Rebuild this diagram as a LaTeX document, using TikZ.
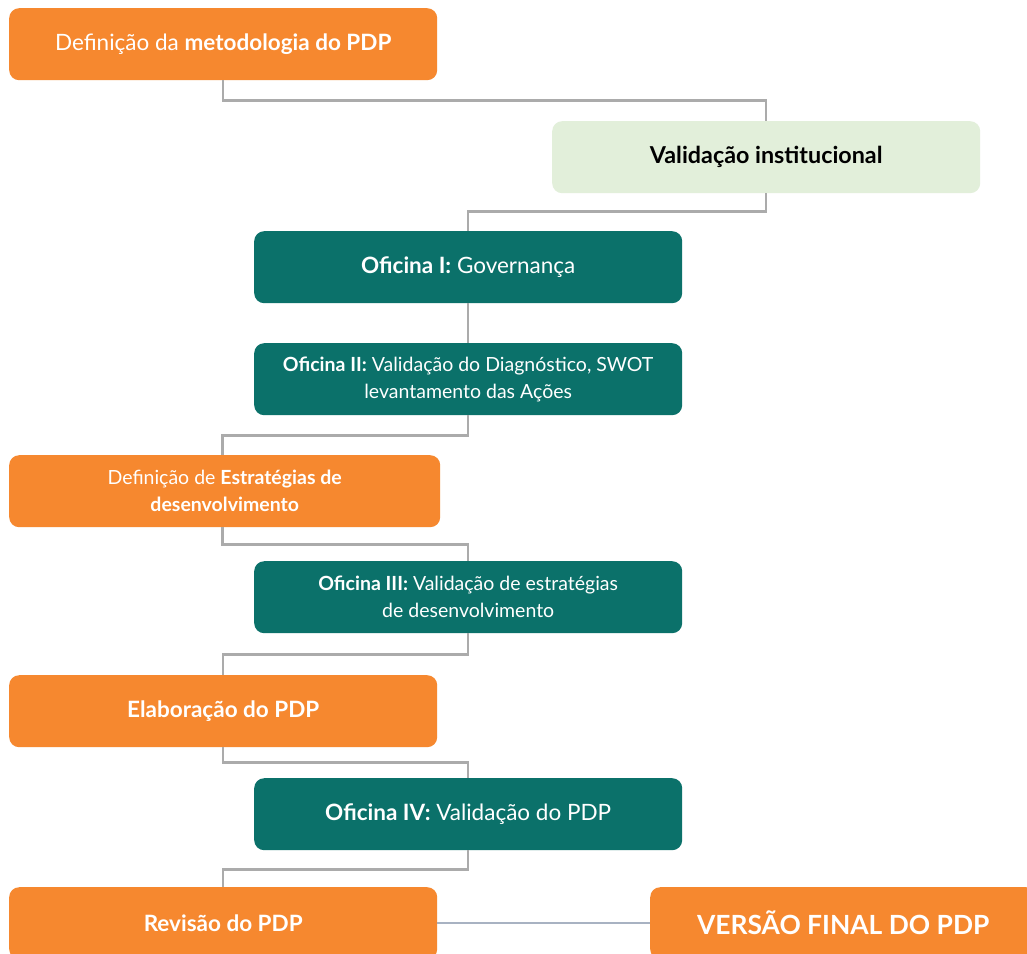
\documentclass[tikz,border=0pt]{standalone}
\usepackage{fontspec}
\setmainfont{Lato}
\definecolor{orangeC}{HTML}{F6882F}
\definecolor{tealC}{HTML}{0B716A}
\definecolor{greenC}{HTML}{E2EFDA}
\definecolor{lineC}{HTML}{ABABAB}
\definecolor{blueline}{HTML}{A8B2C2}
\begin{document}
\begin{tikzpicture}[x=1pt,y=-1pt,
  box/.style={rounded corners=10pt, minimum width=428pt, minimum height=72pt, inner sep=0pt, align=center, anchor=north west},
  orangebox/.style={box, fill=orangeC, text=white},
  tealbox/.style={box, fill=tealC, text=white},
  greenbox/.style={box, fill=greenC, text=black},
  big/.style={font=\fontsize{22.5}{26}\selectfont},
  small/.style={font=\fontsize{19.5}{27}\selectfont},
  conn/.style={draw=lineC, line width=2.5pt}
]
\clip (0,0) rectangle (1027,953);
\fill[white] (0,0) rectangle (1027,953);

\node[orangebox, big] (n1) at (9,8) {Definição da \textbf{metodologia do PDP}};
\node[greenbox, font=\fontsize{23.3}{26}\selectfont] (n2) at (552,121) {\textbf{Validação institucional}};
\node[tealbox, big] (n3) at (254,231) {\textbf{Oficina I:} Governança};
\node[tealbox, small] (n4) at (254,343) {\textbf{Oficina II:} Validação do Diagnóstico, SWOT\\levantamento das Ações};
\node[orangebox, small, minimum width=431pt] (n5) at (9,455) {Definição de \textbf{Estratégias de}\\\textbf{desenvolvimento}};
\node[tealbox, small] (n6) at (254,561) {\textbf{Oficina III:} Validação de estratégias\\de desenvolvimento};
\node[orangebox, big] (n7) at (9,675) {\textbf{Elaboração do PDP}};
\node[tealbox, big] (n8) at (254,778) {\textbf{Oficina IV:} Validação do PDP};
\node[orangebox, big] (n9) at (9,887) {\textbf{Revisão do PDP}};
\node[orangebox, minimum width=386pt, font=\fontsize{26.4}{30}\selectfont] (n10) at (650,887) {\textbf{VERSÃO FINAL DO PDP}};

\draw[conn] (n1.south) -- ++(0,20) -| (n2.north);
\draw[conn] (n2.south) -- ++(0,18) -| (n3.north);
\draw[conn] (n3.south) -- (n4.north);
\draw[conn] (n4.south) -- ++(0,20) -| ([xshift=-2pt]n5.north);
\draw[conn] ([xshift=-2pt]n5.south) -- ++(0,17) -| (n6.north);
\draw[conn] (n6.south) -- ++(0,21) -| (n7.north);
\draw[conn] (n7.south) -- ++(0,15) -| (n8.north);
\draw[conn] (n8.south) -- ++(0,19) -| (n9.north);
\draw[draw=blueline, line width=2.5pt] (n9.east) -- (n10.west);
\end{tikzpicture}
\end{document}
